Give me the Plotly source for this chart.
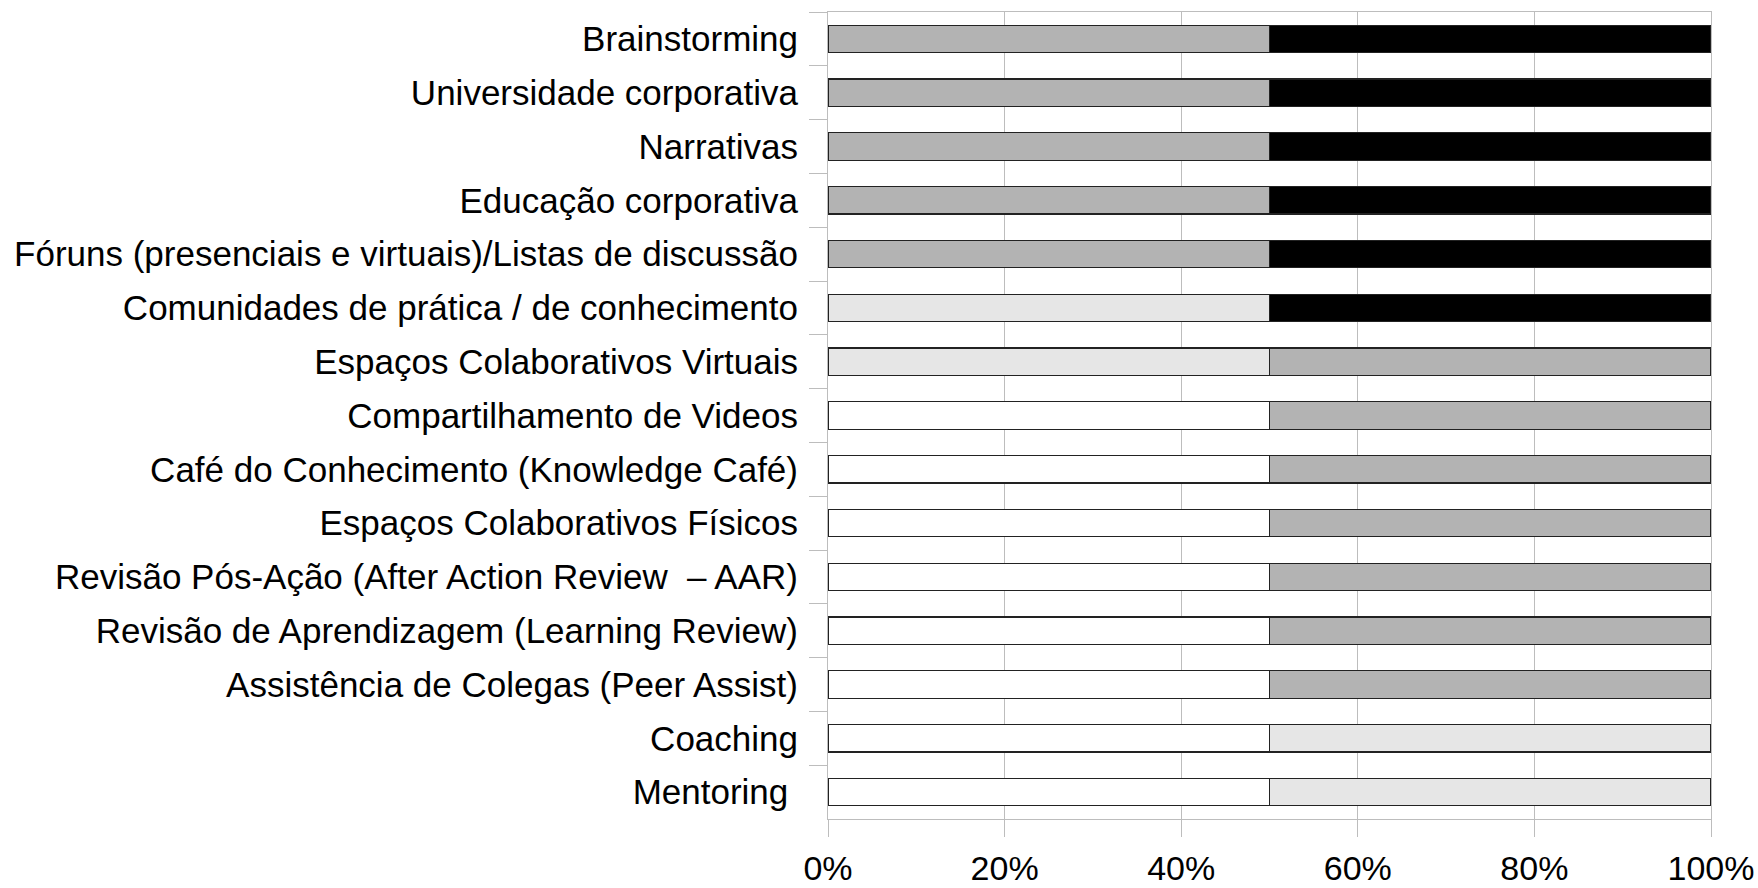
import plotly.graph_objects as go

# Categories, listed from top to bottom
categories = [
    "Brainstorming",
    "Universidade corporativa",
    "Narrativas",
    "Educação corporativa",
    "Fóruns (presenciais e virtuais)/Listas de discussão",
    "Comunidades de prática / de conhecimento",
    "Espaços Colaborativos Virtuais",
    "Compartilhamento de Videos",
    "Café do Conhecimento (Knowledge Café)",
    "Espaços Colaborativos Físicos",
    "Revisão Pós-Ação (After Action Review  – AAR)",
    "Revisão de Aprendizagem (Learning Review)",
    "Assistência de Colegas (Peer Assist)",
    "Coaching",
    "Mentoring ",
]

# Share (%) of responses per level, one list per stacked segment
level_1 = [0, 0, 0, 0, 0, 0, 0, 50, 50, 50, 50, 50, 50, 50, 50]
level_2 = [0, 0, 0, 0, 0, 50, 50, 0, 0, 0, 0, 0, 0, 50, 50]
level_3 = [50, 50, 50, 50, 50, 0, 50, 50, 50, 50, 50, 50, 50, 0, 0]
level_4 = [50, 50, 50, 50, 50, 50, 0, 0, 0, 0, 0, 0, 0, 0, 0]

series = [
    ("Nível 1", level_1, "#ffffff"),
    ("Nível 2", level_2, "#e6e6e6"),
    ("Nível 3", level_3, "#b3b3b3"),
    ("Nível 4", level_4, "#000000"),
]

fig = go.Figure()
for name, values, color in series:
    fig.add_trace(go.Bar(
        y=categories,
        x=values,
        name=name,
        orientation="h",
        marker=dict(color=color, line=dict(color="#222222", width=1.3)),
        showlegend=False,
    ))

grid = "#bdbdbd"
fig.update_layout(
    barmode="stack",
    bargap=0.49,
    width=1758,
    height=888,
    margin=dict(l=828, r=47, t=12, b=69, autoexpand=False),
    paper_bgcolor="white",
    plot_bgcolor="white",
    font=dict(family="Liberation Sans, Arial, sans-serif", color="black"),
    xaxis=dict(
        range=[0, 100],
        dtick=20,
        ticksuffix="%",
        showgrid=True,
        gridcolor=grid,
        gridwidth=1,
        zeroline=False,
        showline=True,
        linecolor=grid,
        linewidth=1,
        mirror=True,
        ticks="outside",
        ticklen=17,
        tickcolor=grid,
        tickfont=dict(size=34),
        ticklabelstandoff=2,
        automargin=False,
    ),
    yaxis=dict(
        autorange="reversed",
        tickson="boundaries",
        ticks="outside",
        ticklen=18,
        tickcolor=grid,
        showgrid=False,
        showline=True,
        linecolor=grid,
        linewidth=1,
        mirror=True,
        tickfont=dict(size=35),
        ticklabelstandoff=22,
        automargin=False,
    ),
)

fig.write_html("out.html")
